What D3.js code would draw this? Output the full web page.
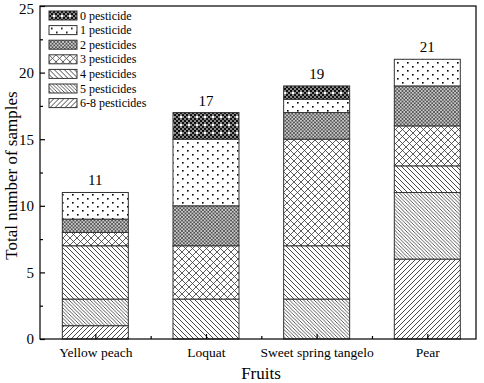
<!DOCTYPE html>
<html>
<head>
<meta charset="utf-8">
<script src="https://cdn.jsdelivr.net/npm/d3@7"></script>
<style>
body{margin:0;background:#fff;}
text{font-family:"Liberation Serif","Times New Roman",serif;fill:#000;}
</style>
</head>
<body>
<svg id="chart" width="484" height="383"></svg>
<script>
// data, bottom segment first
var fruits = ["Yellow peach", "Loquat", "Sweet spring tangelo", "Pear"];
var groups = ["6-8 pesticides", "5 pesticides", "4 pesticides", "3 pesticides", "2 pesticides", "1 pesticide", "0 pesticide"];
var counts68 = [1, 0, 0, 6];
var counts5  = [2, 0, 3, 5];
var counts4  = [4, 3, 4, 2];
var counts3  = [1, 4, 8, 3];
var counts2  = [1, 3, 2, 3];
var counts1  = [2, 5, 1, 2];
var counts0  = [0, 2, 1, 0];
var yTicks = [0, 5, 10, 15, 20, 25];

var series = [counts68, counts5, counts4, counts3, counts2, counts1, counts0];
var patternIds = ["p68", "p5", "p4", "p3", "p2", "p1", "p0"];

var svg = d3.select("#chart");
var plotLeft = 40, plotRight = 476, plotTop = 6, plotBottom = 339;

var x = d3.scaleLinear().domain([0.5, 4.44]).range([plotLeft, plotRight]);
var y = d3.scaleLinear().domain([0, 25]).range([plotBottom, plotTop]);

// patterns
var defs = svg.append("defs");
function hatch(id, size, paths, bg, sw, col){
	var p = defs.append("pattern").attr("id", id)
		.attr("patternUnits", "userSpaceOnUse")
		.attr("width", size).attr("height", size);
	p.append("rect").attr("width", size).attr("height", size).attr("fill", bg || "#fff");
	paths.forEach(function(d){
		p.append("path").attr("d", d).attr("stroke", col || "#333")
			.attr("stroke-width", sw || 1).attr("fill", "none");
	});
	return p;
}
// 6-8: "/" lines
hatch("p68", 5, ["M0,5 L5,0", "M-1,1 L1,-1", "M4,6 L6,4"], "#fff", 0.9);
// 5: dense "\"
hatch("p5", 3.5, ["M0,0 L3.5,3.5", "M-1,2.5 L1,4.5", "M2.5,-1 L4.5,1"], "#fff", 0.8, "#333");
// 4: "\"
hatch("p4", 5, ["M0,0 L5,5", "M-1,4 L1,6", "M4,-1 L6,1"], "#fff", 0.9);
// 3: diamond crosshatch
hatch("p3", 7, ["M0,0 L7,7", "M7,0 L0,7"], "#fff", 0.8);
// 2: dense grey crosshatch
hatch("p2", 3.5, ["M0,0 L3.5,3.5", "M3.5,0 L0,3.5"], "#ccc", 0.7, "#333");
// 1: dots
var p1 = defs.append("pattern").attr("id", "p1").attr("patternUnits", "userSpaceOnUse")
	.attr("width", 10).attr("height", 8);
p1.append("rect").attr("width", 10).attr("height", 8).attr("fill", "#fff");
p1.append("rect").attr("x", 2).attr("y", 2).attr("width", 1.6).attr("height", 1.6).attr("fill", "#000");
p1.append("rect").attr("x", 7).attr("y", 6).attr("width", 1.6).attr("height", 1.6).attr("fill", "#000");
// 0: dark checker with white spots
var p0 = defs.append("pattern").attr("id", "p0").attr("patternUnits", "userSpaceOnUse")
	.attr("width", 8).attr("height", 8);
p0.append("rect").attr("width", 8).attr("height", 8).attr("fill", "#888");
for (var i = 0; i < 4; i++) {
	for (var j = 0; j < 4; j++) {
		if ((i + j) % 2 === 0) {
			p0.append("rect").attr("x", i * 2).attr("y", j * 2).attr("width", 2).attr("height", 2).attr("fill", "#111");
		}
	}
}
p0.append("rect").attr("x", 4).attr("y", 4).attr("width", 2).attr("height", 2).attr("fill", "#fff");

// stacked bars
var stackData = fruits.map(function(f, i){
	var row = {fruit: f, idx: i + 1};
	groups.forEach(function(g, k){ row[g] = series[k][i]; });
	return row;
});
var stacked = d3.stack().keys(groups)(stackData);
var barW = 66;

stacked.forEach(function(layer, k){
	svg.append("g").selectAll("rect")
		.data(layer.filter(function(d){ return d[1] > d[0]; }))
		.enter().append("rect")
		.attr("x", function(d){ return x(d.data.idx) - barW / 2; })
		.attr("y", function(d){ return y(d[1]); })
		.attr("width", barW)
		.attr("height", function(d){ return y(d[0]) - y(d[1]); })
		.attr("fill", "url(#" + patternIds[k] + ")")
		.attr("stroke", "#333")
		.attr("stroke-width", 1);
});

// totals
var totals = fruits.map(function(f, i){
	return d3.sum(series, function(s){ return s[i]; });
});
svg.append("g").selectAll("text").data(totals).enter().append("text")
	.attr("x", function(d, i){ return x(i + 1); })
	.attr("y", function(d){ return y(d) - 7; })
	.attr("text-anchor", "middle")
	.style("font-size", "15px")
	.text(function(d){ return d; });

// frame
svg.append("rect").attr("x", plotLeft).attr("y", plotTop)
	.attr("width", plotRight - plotLeft).attr("height", plotBottom - plotTop)
	.attr("fill", "none").attr("stroke", "#000").attr("stroke-width", 1.2);

// y axis (ticks inward)
var yAxis = d3.axisLeft(y).tickValues(yTicks).tickSize(-5).tickPadding(6);
var gy = svg.append("g").attr("transform", "translate(" + plotLeft + ",0)").call(yAxis);
gy.select(".domain").remove();
gy.selectAll("text").style("font-size", "15px")
	.attr("dy", function(d){ return d === 25 ? "0.5em" : "0.32em"; });
var gyMinor = svg.append("g").attr("transform", "translate(" + plotLeft + ",0)")
	.call(d3.axisLeft(y).tickValues([2.5, 7.5, 12.5, 17.5, 22.5]).tickSize(-3).tickFormat(""));
gyMinor.select(".domain").remove();

// x axis (ticks inward)
var xAxis = d3.axisBottom(x).tickValues([1, 2, 3, 4]).tickSize(-5).tickPadding(8)
	.tickFormat(function(d){ return fruits[d - 1]; });
var gx = svg.append("g").attr("transform", "translate(0," + plotBottom + ")").call(xAxis);
gx.select(".domain").remove();
gx.selectAll("text").style("font-size", "13.5px");
var gxMinor = svg.append("g").attr("transform", "translate(0," + plotBottom + ")")
	.call(d3.axisBottom(x).tickValues([1.5, 2.5, 3.5]).tickSize(-3).tickFormat(""));
gxMinor.select(".domain").remove();
svg.selectAll(".tick line").attr("stroke", "#000").attr("stroke-width", 1.2);

// axis titles
svg.append("text").attr("x", (plotLeft + plotRight) / 2 + 3).attr("y", 379)
	.attr("text-anchor", "middle").style("font-size", "17px").text("Fruits");
svg.append("text").attr("transform", "translate(17," + ((plotTop + plotBottom) / 2 + 3) + ") rotate(-90)")
	.attr("text-anchor", "middle").style("font-size", "17px").text("Total number of samples");

// legend, top item first
var legendItems = groups.map(function(g, k){ return {name: g, pat: patternIds[k]}; }).reverse();
var lg = svg.append("g").selectAll("g").data(legendItems).enter().append("g")
	.attr("transform", function(d, i){ return "translate(49," + (11 + i * 14.6) + ")"; });
lg.append("rect").attr("width", 28).attr("height", 9)
	.attr("fill", function(d){ return "url(#" + d.pat + ")"; })
	.attr("stroke", "#333").attr("stroke-width", 1);
lg.append("text").attr("x", 31).attr("y", 8.5).style("font-size", "12px")
	.text(function(d){ return d.name; });
</script>
</body>
</html>
